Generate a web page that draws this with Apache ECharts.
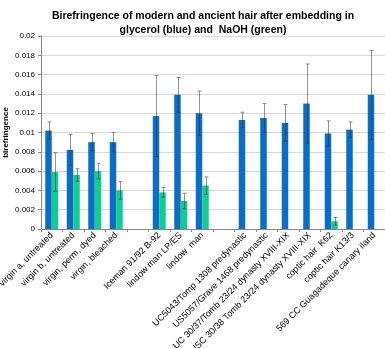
<!DOCTYPE html>
<html>
<head>
<meta charset="utf-8">
<script src="https://cdn.jsdelivr.net/npm/echarts@6/dist/echarts.min.js"></script>
<style>
  html, body { margin: 0; padding: 0; background: #fff; }
  #chart { width: 385px; height: 348px; }
</style>
</head>
<body>
<div id="chart"></div>
<script>
// categories (empty strings are the gaps between groups)
var categories = [
  'virgin a, untreated', 'virgin b, untreated', 'virgin, perm, dyed', 'virgin, bleached', '',
  'Iceman 91/92 B-92', 'lindow man LP/ES', 'lindow  man', '',
  'UC5043/Tomp 1308 predynastic', 'US5057/Grave 1468 predynastic',
  'UC 30/37/Tomb 23/24 dynasty XVIII-XIX', 'USC 30/38 Tomb 23/24 dynasty XVIII-XIX',
  'coptic hair  K62', 'coptic hair K13/3', '569 CC Guagadeque canary iland'
];
// glycerol (blue)
var glycerol = [0.0102, 0.0082, 0.0090, 0.0090, '-', 0.0117, 0.0139, 0.0120, '-',
  0.0113, 0.0115, 0.0110, 0.0130, 0.0099, 0.0103, 0.0139];
var glycerolErr = [0.0009, 0.0016, 0.0009, 0.0010, '-', 0.0042, 0.0018, 0.0023, '-',
  0.0008, 0.0015, 0.0019, 0.0041, 0.0013, 0.0008, 0.0046];
// NaOH (green)
var naoh = [0.0059, 0.0056, 0.0060, 0.0040, '-', 0.0038, 0.0029, 0.0045, '-',
  '-', '-', '-', '-', 0.0008, '-', '-'];
var naohErr = [0.0020, 0.00065, 0.0008, 0.0009, '-', 0.0005, 0.0008, 0.0009, '-',
  '-', '-', '-', '-', 0.0004, '-', '-'];

var yTicks = [0, 0.002, 0.004, 0.006, 0.008, 0.01, 0.012, 0.014, 0.016, 0.018, 0.02];

var BAR_W = 6.5;

function errData(vals, errs) {
  var out = [];
  for (var i = 0; i < vals.length; i++) {
    if (vals[i] === '-') continue;
    out.push([i, vals[i] - errs[i], vals[i] + errs[i]]);
  }
  return out;
}

// error bar drawing, shifted to the blue/green slot
function errRender(offset) {
  return function (params, api) {
    var i = api.value(0);
    var lo = api.coord([i, api.value(1)]);
    var hi = api.coord([i, api.value(2)]);
    var x = Math.round(lo[0] + offset) + 0.5;
    var style = { stroke: 'rgba(40,40,40,0.5)', lineWidth: 1 };
    return {
      type: 'group',
      children: [
        { type: 'line', shape: { x1: x, y1: hi[1], x2: x, y2: lo[1] }, style: style },
        { type: 'line', shape: { x1: x - 2, y1: hi[1], x2: x + 2, y2: hi[1] }, style: style },
        { type: 'line', shape: { x1: x - 2, y1: lo[1], x2: x + 2, y2: lo[1] }, style: style }
      ]
    };
  };
}

var myChart = echarts.init(document.getElementById('chart'));
var option = {
  animation: false,
  textStyle: { fontFamily: 'Liberation Sans, Arial, sans-serif' },
  title: {
    text: 'Birefringence of modern and ancient hair after embedding in\nglycerol (blue) and  NaOH (green)',
    left: 198,
    top: 4,
    textAlign: 'center',
    textStyle: { fontSize: 10.5, fontWeight: 'bold', color: '#000', lineHeight: 14 }
  },
  grid: { left: 41, right: 0, top: 36, bottom: 119, containLabel: false, outerBoundsMode: 'none' },
  xAxis: {
    type: 'category',
    data: categories,
    axisLine: { lineStyle: { color: '#888' } },
    axisTick: { show: true, alignWithLabel: false, lineStyle: { color: '#888' }, length: 3 },
    axisLabel: {
      interval: 0, rotate: 45, fontSize: 9, color: '#000', margin: 5
    }
  },
  yAxis: {
    type: 'value',
    min: 0, max: 0.02, interval: 0.002,
    name: 'birefringence',
    nameLocation: 'middle',
    nameGap: 31,
    nameMoveOverlap: false,
    nameTextStyle: { fontSize: 8, fontWeight: 'bold', color: '#000' },
    axisLine: { show: true, lineStyle: { color: '#888' } },
    axisTick: { show: true, length: 3, lineStyle: { color: '#888' } },
    axisLabel: {
      fontSize: 8, color: '#000', margin: 6,
      formatter: function (v) {
        var t = yTicks.filter(function (k) { return Math.abs(k - v) < 1e-9; })[0];
        return t === undefined ? '' : String(+t.toFixed(3));
      }
    },
    splitLine: { lineStyle: { color: '#d9d9d9', width: 1 } }
  },
  series: [
    {
      name: 'glycerol', type: 'bar', data: glycerol,
      barWidth: BAR_W, barGap: '0%',
      itemStyle: { color: '#0a6ec6' }
    },
    {
      name: 'NaOH', type: 'bar', data: naoh,
      barWidth: BAR_W,
      itemStyle: { color: '#12cc95' }
    },
    {
      type: 'custom', data: errData(glycerol, glycerolErr),
      renderItem: errRender(-BAR_W / 2), z: 5
    },
    {
      type: 'custom', data: errData(naoh, naohErr),
      renderItem: errRender(BAR_W / 2), z: 5
    }
  ]
};
myChart.setOption(option);
</script>
</body>
</html>
